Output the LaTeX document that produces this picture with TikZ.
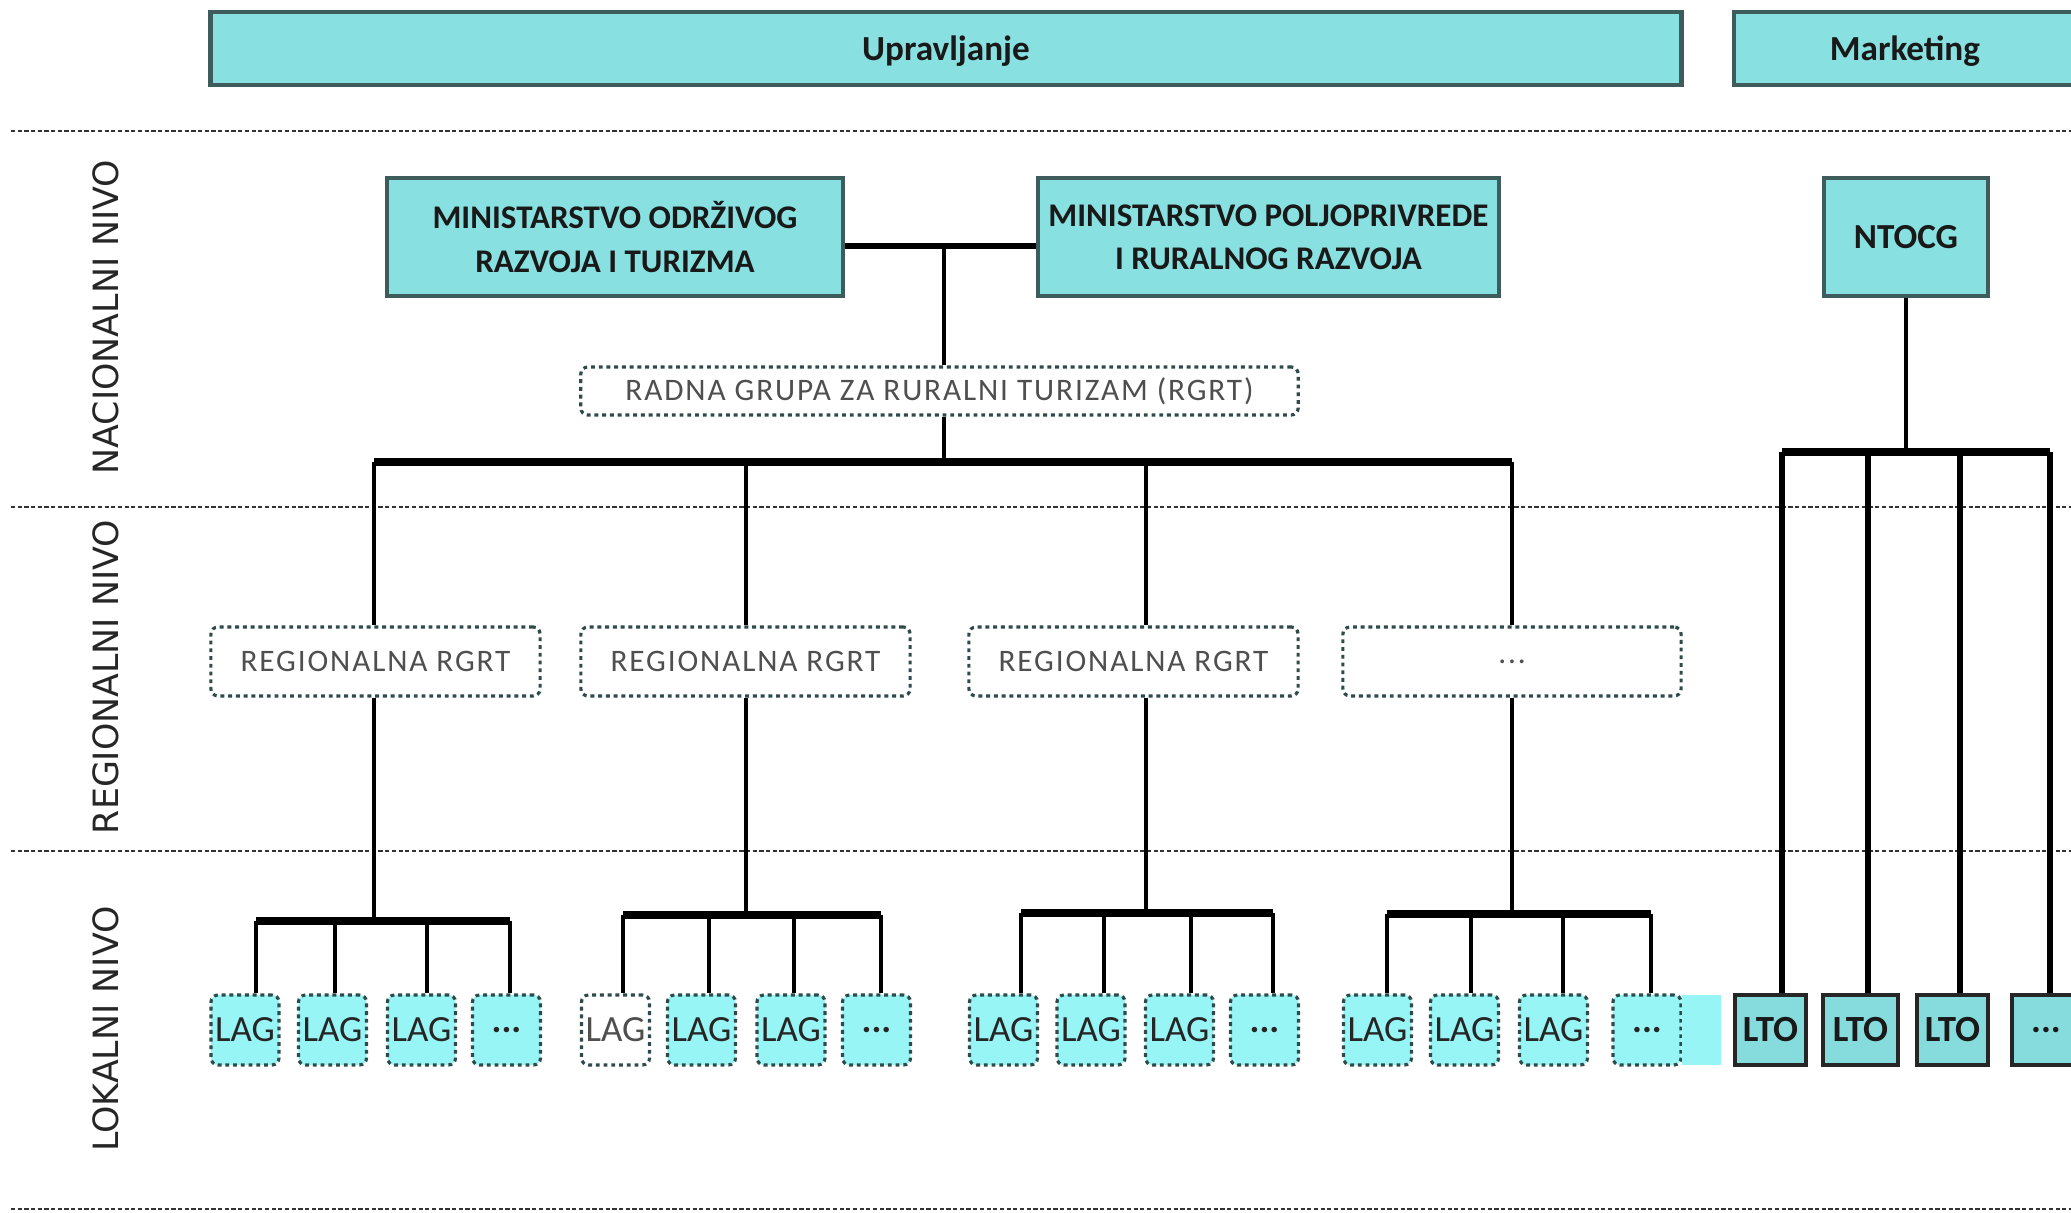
\documentclass[tikz,border=0pt]{standalone}
\usepackage{fontspec}
\setmainfont{Carlito}
\newfontfamily\labfont{DejaVu Sans}
\newfontfamily\spaced[LetterSpace=6]{Carlito}
\definecolor{hdr}{HTML}{88E0E0}
\definecolor{hdrline}{HTML}{3F5C5C}
\definecolor{lagfill}{HTML}{98F5F5}
\definecolor{ltofill}{HTML}{86DCDC}
\definecolor{dotline}{HTML}{2E4A4A}
\definecolor{graytxt}{HTML}{4F4F4F}
\tikzset{
  hdrbox/.style={draw=hdrline, line width=1.2pt, fill=hdr, inner sep=0pt, align=center,
    font=\bfseries\fontsize{9.4}{12.3}\selectfont, text=black!90},
  titlebox/.style={hdrbox, font=\bfseries\fontsize{10}{12}\selectfont, text depth=0pt},
  dotbox/.style={draw=dotline, line width=0.9pt, dash pattern=on 1.1pt off 1.1pt,
    rounded corners=2pt, fill=white, inner sep=0pt, text=graytxt,
    font=\spaced\fontsize{8.9}{10}\selectfont},
  lagbox/.style={dotbox, fill=lagfill, text=black!85, font=\fontsize{10.5}{12}\selectfont,
    minimum width=0.68cm, minimum height=0.70cm},
  lagwhite/.style={lagbox, fill=white, text=graytxt},
  ltobox/.style={draw=black!85, line width=1.3pt, fill=ltofill, inner sep=0pt,
    font=\bfseries\fontsize{10.5}{12}\selectfont, text=black!90, minimum height=0.70cm},
  levlabel/.style={rotate=90, font=\labfont\fontsize{9.9}{11}\selectfont, text=black!85},
  conn/.style={line width=1.2pt},
  barline/.style={line width=2.3pt},
  sepline/.style={draw=black!80, line width=0.75pt, dash pattern=on 1.2pt off 0.7pt}
}
\begin{document}
\begin{tikzpicture}[x=0.01cm, y=-0.01cm]
\useasboundingbox (0,0) rectangle (2071,1213);
\clip (0,0) rectangle (2071,1213);

% separators
\draw[sepline] (11,131) -- (2071,131);
\draw[sepline] (11,507) -- (2071,507);
\draw[sepline] (11,851) -- (2071,851);
\draw[sepline] (11,1209) -- (2071,1209);

% level labels
\node[levlabel] (lnac) at (106,317) {NACIONALNI NIVO};
\node[levlabel] (lreg) at (106,677) {REGIONALNI NIVO};
\node[levlabel] (llok) at (106,1029) {LOKALNI NIVO};

% headers
\node[titlebox, minimum width=14.70cm, minimum height=0.73cm] (upr) at (946,48.5) {Upravljanje};
\node[titlebox, minimum width=3.42cm, minimum height=0.73cm] (mkt) at (1905,48.5) {Marketing};

% national
\node[hdrbox, minimum width=4.56cm, minimum height=1.18cm] (min1) at (615,237)
  {MINISTARSTVO ODRŽIVOG\\RAZVOJA I TURIZMA};
\node[hdrbox, minimum width=4.61cm, minimum height=1.18cm] (min2) at (1268.5,237)
  {MINISTARSTVO POLJOPRIVREDE\\I RURALNOG RAZVOJA};
\node[hdrbox, minimum width=1.64cm, minimum height=1.18cm, font=\bfseries\fontsize{10}{12}\selectfont] (ntocg) at (1906,237) {NTOCG};
\node[dotbox, minimum width=7.17cm, minimum height=0.48cm] (rgrt) at (939.5,391)
  {RADNA GRUPA ZA RURALNI TURIZAM (RGRT)};

% regional
\node[dotbox, minimum width=3.29cm, minimum height=0.69cm] (reg1) at (375.5,661.5) {REGIONALNA RGRT};
\node[dotbox, minimum width=3.29cm, minimum height=0.69cm] (reg2) at (745.5,661.5) {REGIONALNA RGRT};
\node[dotbox, minimum width=3.29cm, minimum height=0.69cm] (reg3) at (1133.5,661.5) {REGIONALNA RGRT};
\node[dotbox, minimum width=3.38cm, minimum height=0.69cm] (reg4) at (1512,661.5) {...};

% local LAG
\node[lagbox] (a1) at (245,1030) {LAG};
\node[lagbox] (a2) at (332.5,1030) {LAG};
\node[lagbox] (a3) at (421.5,1030) {LAG};
\node[lagbox] (a4) at (506.5,1030) {\textbf{...}};
\node[lagwhite] (b1) at (615.5,1030) {LAG};
\node[lagbox] (b2) at (701.5,1030) {LAG};
\node[lagbox] (b3) at (791,1030) {LAG};
\node[lagbox] (b4) at (876.5,1030) {\textbf{...}};
\node[lagbox] (c1) at (1003.5,1030) {LAG};
\node[lagbox] (c2) at (1091,1030) {LAG};
\node[lagbox] (c3) at (1179.5,1030) {LAG};
\node[lagbox] (c4) at (1264.5,1030) {\textbf{...}};
\node[lagbox] (d1) at (1377.5,1030) {LAG};
\node[lagbox] (d2) at (1464.5,1030) {LAG};
\node[lagbox] (d3) at (1553.5,1030) {LAG};
\node[lagbox] (d4) at (1647,1030) {\textbf{...}};
\fill[lagfill] (1682,995) rectangle (1721,1065);

% LTO
\node[ltobox, minimum width=0.71cm] (t1) at (1770.5,1030) {LTO};
\node[ltobox, minimum width=0.75cm] (t2) at (1860.5,1030) {LTO};
\node[ltobox, minimum width=0.71cm] (t3) at (1952.5,1030) {LTO};
\node[ltobox, minimum width=0.68cm] (t4) at (2046,1030) {\textbf{...}};

% national connectors
\coordinate (mj) at (944,246);
\draw[line width=1.6pt] (min1.east |- mj) -- (min2.west |- mj);
\draw[conn] (mj) -- (rgrt.north -| mj);
\coordinate (bj) at (944,462);
\draw[conn] (rgrt.south -| bj) -- (bj);
\coordinate (r1) at (374,462);
\coordinate (r2) at (746,462);
\coordinate (r3) at (1146,462);
\coordinate (r4) at (1512,462);
\draw[barline] (r1) -- (r4);
\draw[conn] (r1) -- (r1 |- reg1.north);
\draw[conn] (r2) -- (r2 |- reg2.north);
\draw[conn] (r3) -- (r3 |- reg3.north);
\draw[conn] (r4) -- (r4 |- reg4.north);

% regional to local
\foreach \r/\p/\yy/\xa/\xb/\xc/\xd in {
    1/a/921/256/335/427/510,
    2/b/915/623/709/794/881,
    3/c/913/1021/1104/1191/1273,
    4/d/914/1387/1471/1563/1651}{
  \coordinate (j\p1) at (\xa,\yy);
  \coordinate (j\p2) at (\xb,\yy);
  \coordinate (j\p3) at (\xc,\yy);
  \coordinate (j\p4) at (\xd,\yy);
  \draw[conn] (r\r |- reg\r.south) -- (r\r |- j\p1);
  \draw[barline] (j\p1) -- (j\p4);
  \foreach \k in {1,2,3,4}
    \draw[conn] (j\p\k) -- (j\p\k |- \p\k.north);
}

% marketing connectors
\coordinate (mb) at (1906,452);
\draw[conn] (ntocg.south) -- (mb);
\coordinate (m1) at (1782,452);
\coordinate (m2) at (1868,452);
\coordinate (m3) at (1960,452);
\coordinate (m4) at (2050,452);
\draw[barline] (m1) -- (m4);
\draw[line width=1.5pt] (m1) -- (m1 |- t1.north);
\draw[line width=1.5pt] (m2) -- (m2 |- t2.north);
\draw[line width=1.5pt] (m3) -- (m3 |- t3.north);
\draw[line width=1.5pt] (m4) -- (m4 |- t4.north);
\end{tikzpicture}
\end{document}
